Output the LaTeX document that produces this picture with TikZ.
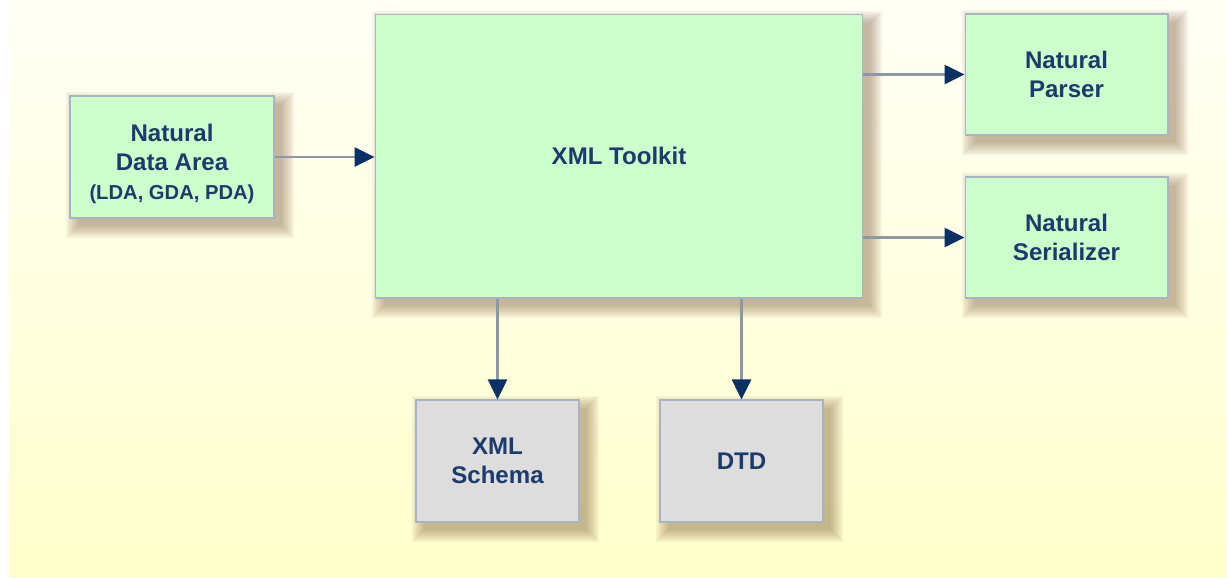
\documentclass[tikz,border=0pt]{standalone}
\usepackage{fontspec}
\setmainfont{Liberation Sans}
\usepackage{tikz}
\usetikzlibrary{arrows.meta,positioning,backgrounds}
\definecolor{boxgreen}{HTML}{CCFFCC}
\definecolor{boxgray}{HTML}{DDDDDD}
\definecolor{boxline}{HTML}{A8B4C4}
\definecolor{navy}{HTML}{1C3A6B}
\definecolor{tipnavy}{HTML}{0A3066}
\definecolor{linegray}{HTML}{8E97A6}
\definecolor{bgtop}{HTML}{FFFFF6}
\definecolor{bgbot}{HTML}{FFFFCC}
\definecolor{shadowbrown}{HTML}{6E4A28}
\tikzset{
  box/.style={draw=boxline, line width=0.6pt, align=center, text=navy, inner sep=2pt,
    font=\fontsize{13.7}{16.4}\selectfont\bfseries},
  tool/.style={box, fill=boxgreen},
  doc/.style={box, fill=boxgray},
  arr/.style={draw=linegray, line width=1.5pt, -{Triangle[length=4mm, width=3.8mm, color=tipnavy]}},
  shadowpart/.style={fill=shadowbrown, opacity=0.065}}
% soft shadow behind a named node
\newcommand\boxshadow[1]{%
  \foreach \s in {0,2,...,12}
    \fill[shadowpart] ([shift={(9-\s,9-\s)}]#1.north west) rectangle ([shift={(7+\s,7+\s)}]#1.south east);}

\begin{document}
\begin{tikzpicture}[x=0.02cm, y=-0.02cm]
  \useasboundingbox (0,0) rectangle (1227,578);
  % boxes
  \node[tool, minimum width=9.76cm, minimum height=5.68cm] (toolkit) at (619,156) {XML Toolkit};
  \node[tool, minimum width=4.08cm, minimum height=2.44cm] (area) at (172,157)
    {\rule{0pt}{18pt}Natural\\Data Area\\[0pt]{\fontsize{11.5}{13}\selectfont (LDA, GDA, PDA)}};
  \node[tool, minimum width=4.06cm, minimum height=2.42cm] (parser) at (1066.5,74.5) {Natural\\Parser};
  \node[tool, minimum width=4.06cm, minimum height=2.42cm] (serializer) at (1066.5,237.5) {Natural\\Serializer};
  \node[doc, minimum width=3.26cm, minimum height=2.44cm] (schema) at (497.5,461) {XML\\Schema};
  \node[doc, minimum width=3.26cm, minimum height=2.44cm] (dtd) at (741.5,461) {DTD};
  % connectors
  \draw[arr] (area.east) -- (area.east -| toolkit.west);
  \draw[arr] (toolkit.east |- parser.west) -- (parser.west);
  \draw[arr] (toolkit.east |- serializer.west) -- (serializer.west);
  \draw[arr] (schema.north |- toolkit.south) -- (schema.north);
  \draw[arr] (dtd.north |- toolkit.south) -- (dtd.north);
  % page and shadows
  \begin{scope}[on background layer]
    \shade[top color=bgtop, bottom color=bgbot] (9,0) rectangle (1227,577);
    \foreach \n in {toolkit,area,parser,serializer,schema,dtd} {\boxshadow{\n}}
  \end{scope}
\end{tikzpicture}
\end{document}
